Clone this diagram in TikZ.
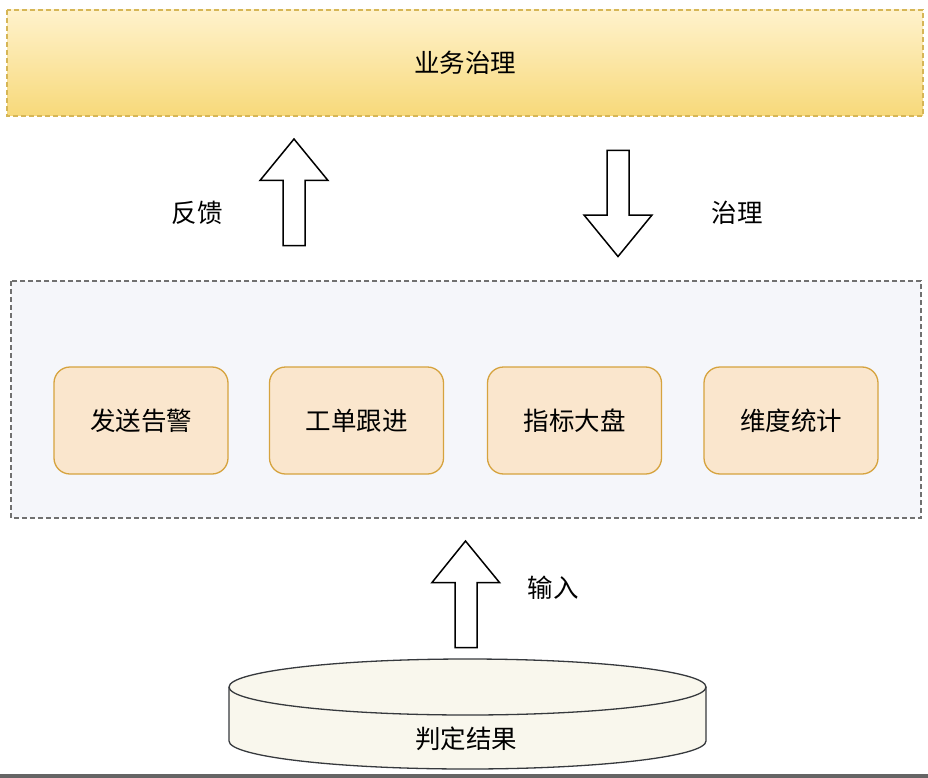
\documentclass[tikz,border=0pt]{standalone}
\usepackage{fontspec}
\setmainfont{Noto Sans CJK SC}
\usetikzlibrary{shapes.geometric}
\definecolor{goldline}{HTML}{D6B656}
\definecolor{goldtop}{HTML}{FFF2CC}
\definecolor{goldbot}{HTML}{F7D97A}
\definecolor{panelfill}{HTML}{F5F6FA}
\definecolor{panelline}{HTML}{707070}
\definecolor{cardfill}{HTML}{FAE6CD}
\definecolor{cardline}{HTML}{D6A33E}
\definecolor{dbfill}{HTML}{F9F7ED}
\definecolor{dbline}{HTML}{36393D}
\tikzset{
  lbl/.style={font=\fontsize{25.5}{30}\selectfont, text=black},
  card/.style={draw=cardline, fill=cardfill, line width=1.3pt, rounded corners=16pt,
    minimum width=174pt, minimum height=107pt, lbl},
  blockarrow/.style={draw=black, fill=white, line width=1.5pt, line join=miter},
}
\begin{document}
\begin{tikzpicture}[x=1pt,y=-1pt]
\useasboundingbox (0,0) rectangle (928,778);
% top box
\shade[top color=goldtop, bottom color=goldbot] (7,10) rectangle (923,116);
\draw[goldline, line width=1.3pt, dash pattern=on 5pt off 3pt] (7,10) rectangle (923,116);
\node[lbl] (gov) at (465,63) {业务治理};
% feedback arrow (up)
\draw[blockarrow] (294,139) -- (328,180.5) -- (305,180.5) -- (305,245.5) -- (283,245.5) -- (283,180.5) -- (260,180.5) -- cycle;
\node[lbl] (fb) at (197,213) {反馈};
% governance arrow (down)
\draw[blockarrow] (607,150.5) -- (629,150.5) -- (629,215) -- (652,215) -- (618,256.5) -- (584,215) -- (607,215) -- cycle;
\node[lbl] (gv) at (737,213) {治理};
% middle panel
\draw[panelline, fill=panelfill, line width=1.3pt, dash pattern=on 5pt off 3pt] (11,281) rectangle (921,518);
\node[card] (c1) at (141,420.5) {发送告警};
\node[card] (c2) at (356.5,420.5) {工单跟进};
\node[card] (c3) at (574.5,420.5) {指标大盘};
\node[card] (c4) at (791,420.5) {维度统计};
% input arrow
\draw[blockarrow] (465.5,541) -- (499.5,582.5) -- (477,582.5) -- (477,647.5) -- (455,647.5) -- (455,582.5) -- (432,582.5) -- cycle;
\node[lbl] (in) at (553,588) {输入};
% cylinder
\filldraw[fill=dbfill, draw=dbline, line width=1.3pt]
  (229,687) -- (229,741) arc[start angle=180, end angle=0, x radius=238.5, y radius=28] -- (706,687)
  arc[start angle=0, end angle=-180, x radius=238.5, y radius=28] -- cycle;
\draw[dbline, line width=1.3pt] (229,687) arc[start angle=180, end angle=0, x radius=238.5, y radius=28];
\node[lbl] (db) at (466,739) {判定结果};
% bottom bar
\fill[panelline!90!black] (0,774) rectangle (928,778);
\end{tikzpicture}
\end{document}
